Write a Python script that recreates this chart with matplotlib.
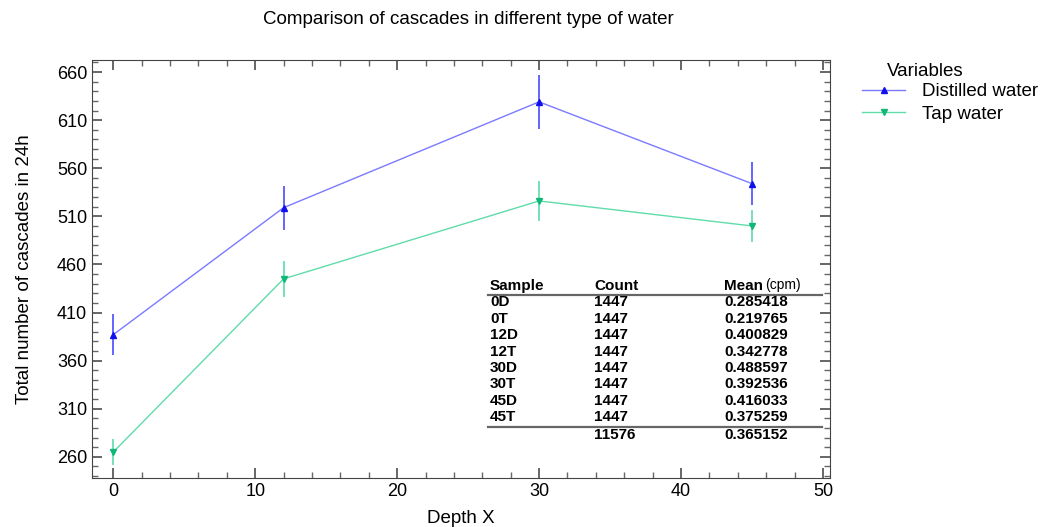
import numpy as np
import matplotlib.pyplot as plt
from matplotlib.lines import Line2D
from matplotlib.ticker import MultipleLocator

plt.rcParams['font.family'] = ['Liberation Sans', 'DejaVu Sans']

depth = [0, 12, 30, 45]
distilled = [387, 519, 629, 544]
distilled_err = [21, 23, 28, 22]
tap = [265, 445, 526, 500]
tap_err = [14, 19, 21, 17]

samples = ['0D', '0T', '12D', '12T', '30D', '30T', '45D', '45T']
counts = [1447] * 8
means = ['0.285418', '0.219765', '0.400829', '0.342778', '0.488597',
         '0.392536', '0.416033', '0.375259']
total_count = 11576
total_mean = '0.365152'

W, H = 1057, 527
fig = plt.figure(figsize=(W / 100, H / 100), dpi=100)
ax = fig.add_axes([92 / W, 1 - 478 / H, (830 - 92) / W, (478 - 60) / H])

blue_line, blue_mk = '#7a7aff', '#1010ee'
green_line, green_mk = '#5fdcaa', '#10b878'

ax.errorbar(depth, distilled, yerr=distilled_err, color=blue_line, lw=1,
            ecolor='#4a4aff', elinewidth=1.2, capsize=0, marker='^', ms=4.5,
            mfc=blue_mk, mec=blue_mk)
ax.errorbar(depth, tap, yerr=tap_err, color=green_line, lw=1,
            ecolor=green_line, elinewidth=1.2, capsize=0, marker='v', ms=4.5,
            mfc=green_mk, mec=green_mk)

ax.set_xlim(-1.5, 50.5)
ax.set_ylim(238, 672.5)
ax.xaxis.set_major_locator(MultipleLocator(10))
ax.xaxis.set_minor_locator(MultipleLocator(2))
ax.yaxis.set_minor_locator(MultipleLocator(10))
ax.set_yticks(np.arange(260, 661, 50))
ax.tick_params(which='both', direction='in', top=True, right=True,
               color='#666666', labelsize=13)
ax.tick_params(which='major', length=7, width=1.4)
ax.tick_params(which='minor', length=4, width=1)
for s in ax.spines.values():
    s.set_color('#444444')

ax.set_xlabel('Depth X', fontsize=13.5, labelpad=7)
ax.set_ylabel('Total number of cascades in 24h', fontsize=13.5, labelpad=17)
fig.text(468 / W, 1 - 20 / H, 'Comparison of cascades in different type of water',
         ha='center', va='center', fontsize=13.5)

# legend
handles = [Line2D([], [], color=blue_line, lw=1, marker='^', ms=4.5,
                  mfc=blue_mk, mec=blue_mk),
           Line2D([], [], color=green_line, lw=1, marker='v', ms=4.5,
                  mfc=green_mk, mec=green_mk)]
fig.legend(handles, ['Distilled water', 'Tap water'], loc='upper left',
           bbox_to_anchor=(862 / W, 1 - 83 / H), frameon=False, fontsize=13.5,
           handlelength=2.3, handletextpad=0.9, borderpad=0, borderaxespad=0,
           labelspacing=0.3)
fig.text(887 / W, 1 - 72 / H, 'Variables', fontsize=13.5, va='center')

# summary table
def fy(ypix):
    return 1 - ypix / H

cols = [490, 594, 724]
fs = 11
fig.text(cols[0] / W, fy(286), 'Sample', fontsize=fs, weight='bold', va='center')
fig.text(cols[1] / W, fy(286), 'Count', fontsize=fs, weight='bold', va='center')
fig.text(cols[2] / W, fy(286), 'Mean', fontsize=fs, weight='bold', va='center')
fig.text(765 / W, fy(285), '(cpm)', fontsize=10, va='center')
fig.add_artist(Line2D([488 / W, 822 / W], [fy(294.5), fy(294.5)],
                      color='#666666', lw=1.6, transform=fig.transFigure))
for i, (sm, c, m) in enumerate(zip(samples, counts, means)):
    y = fy(302.5 + i * 16.4)
    fig.text(cols[0] / W, y, sm, fontsize=fs, weight='bold', va='center')
    fig.text(cols[1] / W, y, str(c), fontsize=fs, weight='bold', va='center')
    fig.text(cols[2] / W, y, m, fontsize=fs, weight='bold', va='center')
fig.add_artist(Line2D([488 / W, 822 / W], [fy(426.5), fy(426.5)],
                      color='#666666', lw=1.6, transform=fig.transFigure))
fig.text(cols[1] / W, fy(435), str(total_count), fontsize=fs, weight='bold', va='center')
fig.text(cols[2] / W, fy(435), total_mean, fontsize=fs, weight='bold', va='center')

fig.savefig('out.png', dpi=100)
